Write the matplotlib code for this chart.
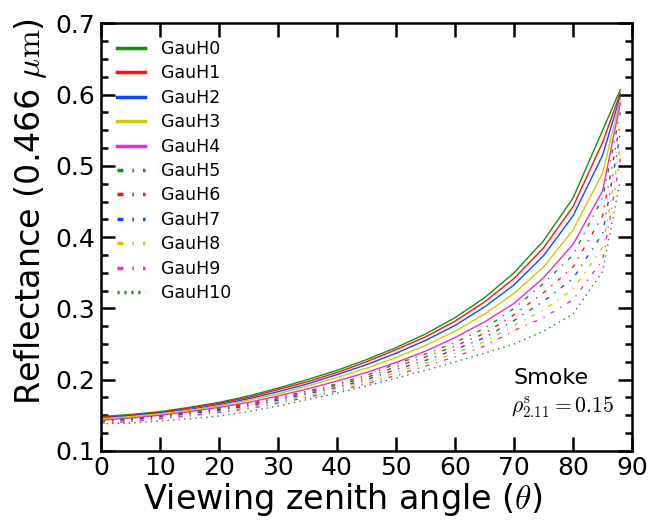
import numpy as np
import matplotlib
matplotlib.use("Agg")
import matplotlib.pyplot as plt
from matplotlib.ticker import MultipleLocator

plt.rcParams['mathtext.fontset'] = 'cm'

# viewing zenith angles
vza = [0, 5, 10, 15, 20, 25, 30, 35, 40, 45, 50, 55, 60, 65, 70, 75, 80, 85, 88]

# reflectance curves
gauh0 = [0.148, 0.151, 0.155, 0.161, 0.168, 0.177, 0.188, 0.200, 0.213, 0.228, 0.245, 0.264, 0.287, 0.315, 0.350, 0.395, 0.455, 0.550, 0.607]
gauh1 = [0.147, 0.150, 0.154, 0.160, 0.167, 0.175, 0.186, 0.197, 0.210, 0.225, 0.242, 0.260, 0.282, 0.309, 0.342, 0.385, 0.443, 0.533, 0.602]
gauh2 = [0.146, 0.149, 0.153, 0.158, 0.165, 0.173, 0.183, 0.194, 0.207, 0.221, 0.237, 0.255, 0.276, 0.302, 0.333, 0.374, 0.430, 0.515, 0.598]
gauh3 = [0.145, 0.148, 0.152, 0.157, 0.163, 0.171, 0.180, 0.191, 0.203, 0.216, 0.231, 0.248, 0.268, 0.292, 0.321, 0.358, 0.410, 0.490, 0.594]
gauh4 = [0.143, 0.146, 0.150, 0.155, 0.161, 0.168, 0.177, 0.187, 0.198, 0.210, 0.224, 0.240, 0.259, 0.281, 0.307, 0.343, 0.390, 0.465, 0.588]
gauh5 = [0.142, 0.145, 0.149, 0.154, 0.160, 0.166, 0.175, 0.184, 0.194, 0.206, 0.222, 0.236, 0.252, 0.272, 0.300, 0.335, 0.375, 0.455, 0.575]
gauh6 = [0.141, 0.144, 0.148, 0.153, 0.158, 0.165, 0.173, 0.182, 0.192, 0.203, 0.218, 0.232, 0.247, 0.265, 0.291, 0.322, 0.358, 0.430, 0.560]
gauh7 = [0.140, 0.143, 0.147, 0.152, 0.157, 0.163, 0.171, 0.180, 0.189, 0.200, 0.214, 0.227, 0.242, 0.259, 0.283, 0.310, 0.342, 0.405, 0.545]
gauh8 = [0.140, 0.142, 0.146, 0.150, 0.155, 0.161, 0.169, 0.177, 0.187, 0.197, 0.210, 0.223, 0.237, 0.253, 0.276, 0.298, 0.327, 0.385, 0.528]
gauh9 = [0.139, 0.141, 0.145, 0.149, 0.154, 0.159, 0.167, 0.175, 0.184, 0.194, 0.206, 0.219, 0.232, 0.247, 0.269, 0.287, 0.312, 0.368, 0.510]
gauh10 = [0.138, 0.139, 0.142, 0.145, 0.149, 0.155, 0.163, 0.172, 0.181, 0.191, 0.202, 0.213, 0.225, 0.237, 0.250, 0.268, 0.292, 0.352, 0.480]

curves = [gauh0, gauh1, gauh2, gauh3, gauh4, gauh5, gauh6, gauh7, gauh8, gauh9, gauh10]
names = ["GauH%d" % i for i in range(11)]
colores = ['#129012', '#ff1010', '#1048ff', '#d2c800', '#f028d0'] * 2 + ['#129012']
estilos = ['-'] * 5 + [(0, (3, 5, 1, 5))] * 5 + [(0, (1, 3))]

fig = plt.figure(figsize=(6.51, 5.2), dpi=100)
ax = fig.add_axes([0.155, 0.133, 0.816, 0.822])

for y, nom, c, ls in zip(curves, names, colores, estilos):
    ax.plot(vza, y, color=c, linestyle=ls, lw=1.0, label=nom)

ax.set_xlim(0, 90)
ax.set_ylim(0.1, 0.7)
ax.xaxis.set_major_locator(MultipleLocator(10))
ax.yaxis.set_major_locator(MultipleLocator(0.1))
ax.yaxis.set_minor_locator(MultipleLocator(0.025))
ax.tick_params(which='both', direction='in', top=True, right=True, width=1.8)
ax.tick_params(which='major', length=10, labelsize=18, pad=4)
ax.tick_params(which='minor', length=5)
for s in ax.spines.values():
    s.set_linewidth(1.8)

ax.set_xlabel(r"Viewing zenith angle ($\theta$)", fontsize=24)
ax.set_ylabel(r"Reflectance (0.466 $\mu\mathrm{m}$)", fontsize=24)
ax.xaxis.set_label_coords(0.455, -0.07)
ax.yaxis.set_label_coords(-0.097, 0.56)

leg = ax.legend(loc='upper left', frameon=False, fontsize=12.5, handlelength=1.6,
                handletextpad=0.9, labelspacing=0.37, borderaxespad=0.55)
for i, h in enumerate(leg.legend_handles):
    h.set_linewidth(2.5)
    if 5 <= i <= 9:
        h.set_dashes((1.7, 2.6, 0.45, 2.6))
    elif i == 10:
        h.set_dashes((0.6, 1.4))

ax.text(0.776, 0.171, "Smoke", transform=ax.transAxes, fontsize=16, va='center')
ax.text(0.772, 0.103, r"$\rho^{\rm s}_{2.11}=0.15$", transform=ax.transAxes, fontsize=15.5, va='center')

plt.savefig("out.png", dpi=100)
